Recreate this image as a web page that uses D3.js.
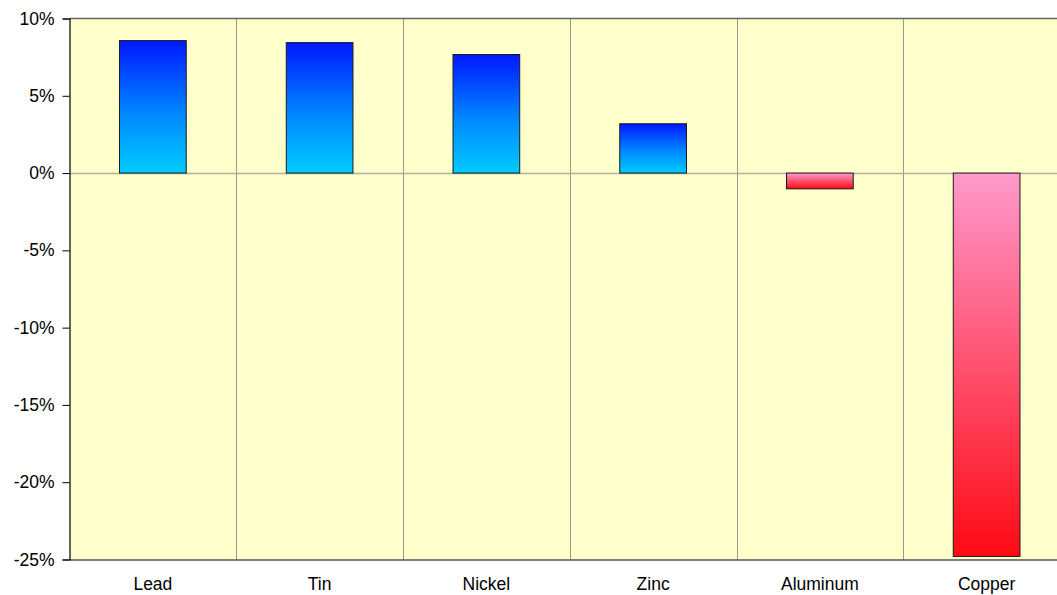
<!DOCTYPE html>
<html>
<head>
<meta charset="utf-8">
<script src="https://cdn.jsdelivr.net/npm/d3@7"></script>
<style>
  html, body { margin: 0; padding: 0; background: #ffffff; }
  svg { display: block; font-family: "Liberation Sans", Arial, sans-serif; }
</style>
</head>
<body>
<svg id="chart" width="1057" height="595"></svg>
<script>
// Metal price change (%)
const metals = ["Lead", "Tin", "Nickel", "Zinc", "Aluminum", "Copper"];
const changes = [8.57, 8.44, 7.67, 3.19, -1.02, -24.8];
const yTicks = [10, 5, 0, -5, -10, -15, -20, -25];

const svg = d3.select("#chart");
const plotLeft = 69.5, plotRight = 1070, plotTop = 18.5, plotBottom = 559.5;

const x = d3.scaleBand().domain(metals).range([plotLeft, plotRight]).padding(0);
const y = d3.scaleLinear().domain([-25, 10]).range([plotBottom, plotTop]);

// Gradients: blue for gains, pink-to-red for losses
const defs = svg.append("defs");
const gUp = defs.append("linearGradient").attr("id", "gradUp")
  .attr("x1", 0).attr("y1", 0).attr("x2", 0).attr("y2", 1);
gUp.append("stop").attr("offset", "0%").attr("stop-color", "#0018ff");
gUp.append("stop").attr("offset", "55%").attr("stop-color", "#0088ff");
gUp.append("stop").attr("offset", "100%").attr("stop-color", "#00ccff");
const gDown = defs.append("linearGradient").attr("id", "gradDown")
  .attr("x1", 0).attr("y1", 0).attr("x2", 0).attr("y2", 1);
gDown.append("stop").attr("offset", "0%").attr("stop-color", "#ff99cc");
gDown.append("stop").attr("offset", "100%").attr("stop-color", "#ff0a14");

// Plot background
svg.append("rect")
  .attr("x", plotLeft).attr("y", plotTop)
  .attr("width", plotRight - plotLeft).attr("height", plotBottom - plotTop)
  .attr("fill", "#ffffcc");

// Vertical separators between categories
svg.append("g").selectAll("line")
  .data(metals.slice(1))
  .join("line")
  .attr("x1", d => Math.round(x(d)) + 0.5)
  .attr("x2", d => Math.round(x(d)) + 0.5)
  .attr("y1", plotTop).attr("y2", plotBottom)
  .attr("stroke", "#9a9a8a").attr("stroke-width", 1);

// Zero line
svg.append("line")
  .attr("x1", plotLeft).attr("x2", plotRight)
  .attr("y1", Math.round(y(0)) + 0.5).attr("y2", Math.round(y(0)) + 0.5)
  .attr("stroke", "#b0b0a0").attr("stroke-width", 1.5);

// Bars
const barW = x.bandwidth() * 0.4;
svg.append("g").selectAll("rect")
  .data(metals.map((m, i) => ({ m, v: changes[i] })))
  .join("rect")
  .attr("x", d => x(d.m) + (x.bandwidth() - barW) / 2)
  .attr("y", d => y(Math.max(0, d.v)))
  .attr("width", barW)
  .attr("height", d => Math.abs(y(d.v) - y(0)))
  .attr("fill", d => d.v >= 0 ? "url(#gradUp)" : "url(#gradDown)")
  .attr("stroke", "#1a1a1a").attr("stroke-width", 1);

// Top border
svg.append("line")
  .attr("x1", plotLeft).attr("x2", plotRight)
  .attr("y1", plotTop).attr("y2", plotTop)
  .attr("stroke", "#666660").attr("stroke-width", 1.5);

// Y axis
const yAxis = svg.append("g")
  .attr("transform", `translate(${plotLeft},0)`)
  .call(d3.axisLeft(y).tickValues(yTicks).tickSize(7).tickPadding(8)
    .tickFormat(d => d + "%"));
yAxis.select(".domain").attr("stroke", "#000").attr("stroke-width", 1.2);
yAxis.selectAll(".tick line").attr("stroke", "#000");
yAxis.selectAll("text").attr("font-size", 17.5).attr("fill", "#000")
  .attr("font-family", "Liberation Sans, Arial, sans-serif");

// X axis
const xAxis = svg.append("g")
  .attr("transform", `translate(0,${plotBottom})`)
  .call(d3.axisBottom(x).tickSize(0).tickPadding(18));
xAxis.select(".domain").attr("stroke", "#000").attr("stroke-width", 1.2);
xAxis.selectAll("text").attr("font-size", 17.5).attr("fill", "#000")
  .attr("font-family", "Liberation Sans, Arial, sans-serif");
</script>
</body>
</html>
